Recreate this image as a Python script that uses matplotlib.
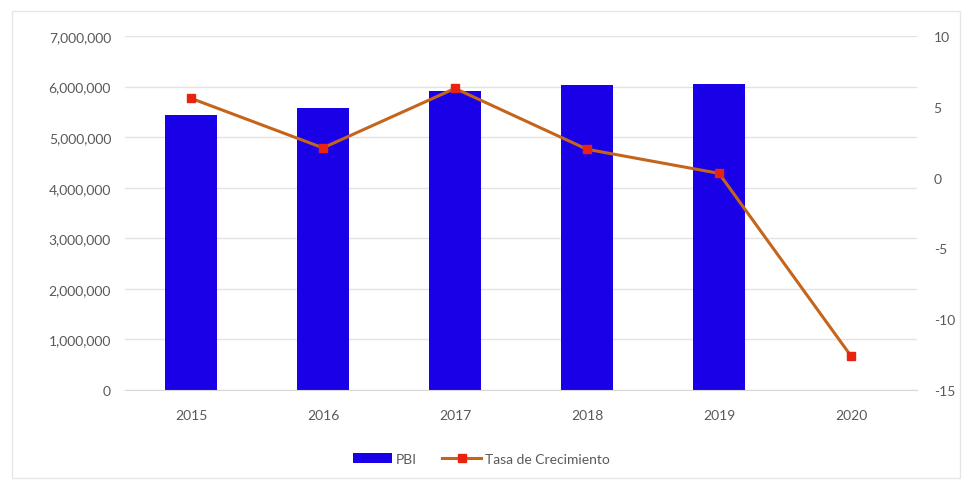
import matplotlib.pyplot as plt
from matplotlib.patches import Rectangle
from matplotlib.ticker import FuncFormatter

years = ["2015", "2016", "2017", "2018", "2019", "2020"]
pbi = [5430000, 5570000, 5910000, 6030000, 6050000, None]
growth = [5.6, 2.1, 6.3, 2.0, 0.3, -12.6]

BAR = "#1a00e6"
LINE = "#c5651b"
MARK = "#e8230f"
TXT = "#595959"
GRID = "#e3e3e3"

plt.rcParams["font.family"] = ["Lato", "DejaVu Sans"]
plt.rcParams["axes.unicode_minus"] = False

fig = plt.figure(figsize=(9.63, 4.81), dpi=100)
fig.patches.append(Rectangle((12 / 963, 2 / 481), 948 / 963, 467 / 481,
                             transform=fig.transFigure, fill=False,
                             edgecolor="#e6e6e6", linewidth=1.0))

ax = fig.add_axes([125 / 963, 90 / 481, 792 / 963, 354 / 481])
x = list(range(len(years)))
bar_x = [i for i, v in zip(x, pbi) if v is not None]
bar_v = [v for v in pbi if v is not None]
ax.bar(bar_x, bar_v, width=0.4, color=BAR, label="PBI", zorder=2)
ax.set_xlim(-0.5, len(years) - 0.5)
ax.set_ylim(0, 7000000)
ax.set_yticks(range(0, 7000001, 1000000))
ax.yaxis.set_major_formatter(FuncFormatter(lambda v, p: f"{int(v):,}"))
ax.set_xticks(x)
ax.set_xticklabels(years)
ax.grid(axis="y", color=GRID, linewidth=1.0, zorder=0)
ax.set_axisbelow(True)
for s in ("top", "right", "left"):
    ax.spines[s].set_visible(False)
ax.spines["bottom"].set_color("#d9d9d9")
ax.tick_params(axis="both", length=0, colors=TXT, labelsize=10, pad=10)
ax.tick_params(axis="x", pad=14)

ax2 = ax.twinx()
ax2.plot(x, growth, color=LINE, linewidth=2.2, marker="s", markersize=6,
         markerfacecolor=MARK, markeredgecolor=MARK, label="Tasa de Crecimiento",
         zorder=3)
ax2.set_ylim(-15, 10)
ax2.set_yticks(range(-15, 11, 5))
for s in ("top", "right", "left", "bottom"):
    ax2.spines[s].set_visible(False)
ax2.tick_params(axis="y", length=0, colors=TXT, labelsize=10, pad=12)

h1, l1 = ax.get_legend_handles_labels()
h2, l2 = ax2.get_legend_handles_labels()
fig.legend(h1 + h2, l1 + l2, loc="center", bbox_to_anchor=(0.5, 21 / 481),
           ncol=2, frameon=False, fontsize=10, labelcolor=TXT,
           handlelength=2.8, handletextpad=0.3, columnspacing=1.8)

fig.savefig("out.png", dpi=100)
